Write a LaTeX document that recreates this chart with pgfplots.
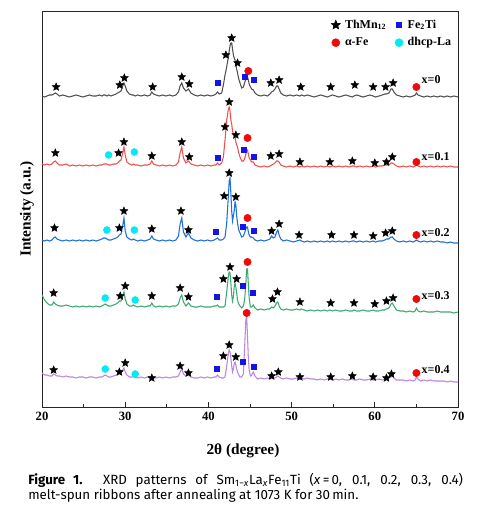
\documentclass[border=0pt]{standalone}
\usepackage{fontspec}
\setmainfont{Liberation Serif}
\newfontfamily\capfont{Fira Sans}
\usepackage{pgfplots}
\usepackage{pgfplotstable}
\pgfplotsset{compat=1.18}
\definecolor{cgray}{HTML}{505050}
\definecolor{cred}{HTML}{F05050}
\definecolor{cblue}{HTML}{1E6EDC}
\definecolor{cgreen}{HTML}{3CAA6E}
\definecolor{cpurple}{HTML}{B987E1}
\definecolor{msq}{HTML}{1414E6}
\definecolor{mred}{HTML}{EE0A0A}
\definecolor{mcyan}{HTML}{00EBF5}
\pgfdeclareplotmark{fstar}{%
 \pgfpathmoveto{\pgfpointpolar{90}{\pgfplotmarksize}}%
 \pgfpathlineto{\pgfpointpolar{126}{0.45\pgfplotmarksize}}%
 \pgfpathlineto{\pgfpointpolar{162}{\pgfplotmarksize}}%
 \pgfpathlineto{\pgfpointpolar{198}{0.45\pgfplotmarksize}}%
 \pgfpathlineto{\pgfpointpolar{234}{\pgfplotmarksize}}%
 \pgfpathlineto{\pgfpointpolar{270}{0.45\pgfplotmarksize}}%
 \pgfpathlineto{\pgfpointpolar{306}{\pgfplotmarksize}}%
 \pgfpathlineto{\pgfpointpolar{342}{0.45\pgfplotmarksize}}%
 \pgfpathlineto{\pgfpointpolar{18}{\pgfplotmarksize}}%
 \pgfpathlineto{\pgfpointpolar{54}{0.45\pgfplotmarksize}}%
 \pgfpathclose
 \pgfusepathqfillstroke}
\pgfplotstableread{
x g r b n p
20.0 0 2 1 14 5
20.3 -1 1 0 9 3
20.6 0 2 1 6 3
20.9 1 1 0 4 2
21.2 1 2 1 4 2
21.4 2 4 3 7 4
21.6 3 5 4 5 3
21.8 2 3 2 4 2
22.1 0 1 1 3 2
22.5 1 1 0 3 1
22.9 0 2 1 4 2
23.3 -1 0 0 3 1
23.7 0 1 1 2 1
24.1 1 0 0 3 0
24.5 0 1 1 2 1
24.9 -1 0 0 3 1
25.3 0 1 1 2 0
25.7 1 0 0 3 1
26.1 0 1 1 2 1
26.5 0 0 0 3 0
26.9 1 1 1 2 1
27.2 0 1 2 3 1
27.4 1 2 3 4 2
27.6 1 2 3 5 3
27.8 0 2 2 4 2
28.0 1 1 1 3 1
28.3 0 1 1 3 1
28.6 1 2 2 4 2
28.9 2 2 3 5 3
29.1 3 3 4 6 4
29.3 4 5 6 8 5
29.5 5 6 7 8 5
29.7 10 13 15 13 8
29.85 13 19 23 17 10
30.0 10 11 10 10 6
30.2 5 4 4 5 3
30.5 2 2 2 3 1
30.8 1 1 1 3 1
31.0 1 2 2 4 1
31.2 0 1 1 3 1
31.5 1 1 0 2 0
31.9 0 0 1 3 1
32.3 1 1 0 2 0
32.7 0 1 1 3 1
33.0 1 2 2 3 1
33.2 4 5 5 6 2
33.4 2 2 2 3 1
33.7 1 1 1 2 0
34.1 0 0 0 3 1
34.5 1 1 1 2 0
34.9 0 0 0 3 1
35.3 1 1 1 2 0
35.7 0 0 0 3 1
36.1 1 1 1 3 1
36.4 4 4 5 5 2
36.6 10 13 17 11 6
36.8 13 19 23 14 9
37.0 8 8 9 7 4
37.3 5 3 4 3 2
37.6 7 5 8 6 3
37.9 3 2 3 3 1
38.3 1 1 1 2 0
38.7 0 0 0 2 0
39.1 1 1 1 3 1
39.5 0 0 0 2 0
39.9 1 1 1 2 1
40.3 0 0 0 2 0
40.7 1 1 1 3 1
40.9 2 1 2 3 1
41.1 4 3 3 4 3
41.3 2 1 1 2 1
41.6 3 3 1 2 0
41.8 11 9 2 2 0
42.0 21 26 4 3 1
42.2 29 46 18 17 12
42.4 39 57 45 33 25
42.5 45 59 60 37 28
42.6 50 55 63 36 26
42.7 53 46 48 26 20
42.8 53 42 30 14 12
42.9 47 35 20 8 6
43.0 41 32 25 12 9
43.1 38 30 30 22 14
43.2 36 29 39 26 16
43.3 31 24 36 22 13
43.4 27 21 25 16 9
43.5 23 19 18 9 6
43.65 17 13 11 5 3
43.8 13 9 8 3 1
44.0 8 5 4 1 1
44.2 9 5 5 3 4
44.35 13 7 8 9 30
44.5 17 12 12 25 58
44.6 19 16 14 40 62
44.7 19 16 14 40 42
44.8 16 12 9 25 20
44.9 12 8 6 11 8
45.05 9 6 4 2 2
45.2 7 4 4 2 3
45.4 6 4 3 4 6
45.6 3 1 1 1 2
45.9 1 0 0 -1 -1
46.3 0 -1 1 0 0
46.7 1 0 0 -1 -1
47.1 0 -1 1 0 0
47.4 2 0 2 0 -1
47.6 4 1 5 2 0
47.8 5 2 3 1 0
48.0 7 3 4 3 0
48.2 10 5 9 6 1
48.35 10 5 11 7 2
48.5 7 4 6 3 1
48.7 3 1 2 0 0
49.0 1 0 0 -1 -1
49.4 0 -1 1 0 0
49.8 1 0 0 -1 -1
50.2 0 -1 -1 -1 -1
50.6 1 0 0 0 0
51.0 0 -1 1 -1 -1
51.2 1 0 0 0 0
51.5 0 -1 -1 -1 -1
51.9 1 0 0 -2 0
52.3 0 -1 -1 -1 -1
52.7 -1 0 0 -2 -1
53.1 0 -1 -1 -1 -2
53.5 1 0 0 -2 -1
53.9 0 -1 -1 -1 -2
54.3 -1 0 0 -2 -1
54.6 0 -1 -1 -1 -1
54.9 1 0 0 -2 -2
55.3 0 -1 -1 -1 -1
55.7 -1 0 0 -2 -2
56.1 0 -1 -1 -2 -1
56.5 1 0 0 -1 -2
56.9 0 -1 -1 -2 -2
57.3 -1 0 0 -2 -1
57.5 0 0 0 -1 -2
57.8 1 -1 -1 -2 -2
58.2 0 0 0 -2 -1
58.6 -1 -1 -1 -1 -2
59.0 0 0 0 -2 -2
59.4 1 -1 -1 -2 -1
59.8 0 0 0 -1 -2
60.1 -1 -1 -1 -2 -2
60.5 0 0 0 -2 -1
60.9 1 0 0 -1 -2
61.2 2 1 1 -1 -1
61.4 2 1 2 0 -1
61.7 3 1 2 1 0
61.95 7 3 4 5 1
62.1 7 3 4 6 2
62.3 4 2 2 3 0
62.6 1 0 0 -1 -2
63.0 0 -1 -1 -2 -2
63.4 -1 0 0 -2 -2
63.8 0 -1 -1 -3 -3
64.2 -1 0 0 -2 -2
64.6 0 -1 -1 -3 -3
64.85 1 0 0 -2 -2
65.0 3 1 1 1 1
65.2 1 0 0 -2 -1
65.5 0 -1 -1 -3 -3
65.9 -1 0 0 -2 -2
66.3 0 -1 -1 -3 -3
66.7 -1 0 0 -3 -2
67.1 0 -1 -1 -3 -3
67.5 -1 0 0 -2 -3
67.9 0 -1 -1 -3 -3
68.3 -1 0 -1 -3 -3
68.7 0 -1 -2 -3 -4
69.1 -1 0 -1 -3 -3
69.5 0 -1 -2 -4 -4
70.0 -1 -1 -2 -3 -4
}\xrd
\begin{document}
\begin{tikzpicture}[x=0.75pt,y=0.75pt]
\useasboundingbox (-42,-103) rectangle (458,407);
\begin{axis}[
 at={(0,0)}, anchor=south west,
 width=312pt, height=297pt, scale only axis,
 xmin=20, xmax=70, ymin=0, ymax=396,
 xtick={20,30,40,50,60,70}, minor xtick={25,35,45,55,65},
 xtick pos=bottom, ytick=\empty,
 tick align=inside,
 major tick length=3.5pt, minor tick length=2pt,
 axis line style={line width=0.7pt, black!85},
 every tick/.style={black!85, line width=0.6pt},
 ticklabel style={font=\bfseries\fontsize{9.5}{10}\selectfont},
 /pgf/number format/assume math mode=true,
 xlabel={2θ (degree)}, ylabel={Intensity (a.u.)},
 label style={font=\bfseries\fontsize{11.5}{13}\selectfont},
 xlabel style={at={(axis description cs:0.483,-0.11)}, anchor=center},
 ylabel style={at={(axis description cs:-0.036,0.5)}, anchor=center},
 legend columns=2,
 legend cell align=left,
 legend style={at={(rel axis cs:0.992,0.985)}, anchor=north east, draw=none, fill=none, inner sep=0pt,
   font=\bfseries\fontsize{9}{10}\selectfont,
   nodes={inner xsep=2.5pt, inner ysep=2pt},
   /tikz/every odd column/.append style={column sep=1pt},
   /tikz/every even column/.append style={column sep=4pt}, row sep=1.5pt},
 legend image code/.code={\draw[#1] plot coordinates {(0cm,0cm)};},
]
\addlegendimage{only marks, mark=fstar, mark size=3.6pt, black}
\addlegendentry{ThMn\textsubscript{12}}
\addlegendimage{only marks, mark=square*, mark size=2pt, msq}
\addlegendentry{Fe\textsubscript{2}Ti}
\addlegendimage{only marks, mark=*, mark size=3pt, mred}
\addlegendentry{α-Fe}
\addlegendimage{only marks, mark=*, mark size=3pt, mcyan}
\addlegendentry{dhcp-La}

\addplot[forget plot, cgray, line width=0.8pt] table[x=x, y expr=\thisrow{g}+311] {\xrd};
\addplot[forget plot, cred, line width=0.8pt] table[x=x, y expr=\thisrow{r}+241] {\xrd};
\addplot[forget plot, cblue, line width=0.8pt] table[x=x, y expr=\thisrow{b}+166] {\xrd};
\addplot[forget plot, cgreen, line width=0.8pt] table[x=x, y expr=\thisrow{n}+98] {\xrd};
\addplot[forget plot, cpurple, line width=0.8pt] table[x=x, y expr=\thisrow{p}+29] {\xrd};

\addplot[forget plot, only marks, mark=fstar, mark size=3pt, black] coordinates {
(21.7,320) (29.35,322) (29.9,329) (33.3,320) (36.8,330) (37.7,323) (42.1,352) (42.8,369) (43.5,344) (47.5,324) (48.5,327) (51.1,320) (54.7,320) (57.6,322) (59.8,320) (61.3,320) (62.2,324)
(21.6,254) (29.2,254) (29.85,265) (33.2,251) (36.8,265) (37.7,250) (42.0,280) (42.5,305) (43.3,272) (47.5,251) (48.5,253) (51.0,245) (54.6,245) (57.3,246) (60.0,244) (61.4,245) (62.1,250)
(21.5,179) (29.3,179) (29.85,196) (33.2,178) (36.7,196) (37.6,177) (41.9,211) (42.5,234) (43.3,210) (47.6,176) (48.5,183) (50.9,172) (54.8,172) (57.5,172) (59.8,171) (61.3,174) (62.1,176)
(21.4,114) (29.4,111) (30.0,121) (33.2,111) (36.6,119) (37.6,110) (41.8,128) (42.6,140) (43.4,128) (47.7,108) (48.3,115) (51.0,105) (54.7,104) (57.5,104) (60.0,103) (61.4,106) (62.2,109)
(21.4,37) (29.3,35) (30.0,44) (33.2,29) (36.6,41) (37.6,34) (41.8,51) (42.5,62) (43.3,50) (47.6,31) (48.4,35) (51.0,30) (54.7,30) (57.3,31) (59.8,30) (61.4,29) (62.0,33)
};
\addplot[forget plot, only marks, mark=square*, mark size=1.9pt, msq] coordinates {
(41.1,324) (44.4,330) (45.5,327)
(41.1,249) (44.2,257) (45.4,250)
(40.9,175) (44.1,180) (45.4,176)
(41.0,110) (44.1,121) (45.3,114)
(41.0,38) (44.1,45) (45.5,40)
};
\addplot[forget plot, only marks, mark=*, mark size=2.75pt, mred] coordinates {
(44.8,336) (65.0,320)
(44.7,269) (65.0,245)
(44.7,189) (65.0,172)
(44.7,145) (65.0,108)
(44.6,94) (65.0,34)
};
\addplot[forget plot, only marks, mark=*, mark size=2.6pt, mcyan] coordinates {
(28.0,252) (31.1,255)
(27.8,177) (31.1,177)
(27.6,109) (31.2,107)
(27.6,38) (31.2,33)
};
\begin{scope}[every node/.style={anchor=west, inner sep=0pt, font=\bfseries\fontsize{9}{10}\selectfont}]
\node at (axis cs:65.6,327) {x=0};
\node at (axis cs:65.6,250) {x=0.1};
\node at (axis cs:65.6,174) {x=0.2};
\node at (axis cs:65.6,111) {x=0.3};
\node at (axis cs:65.6,37) {x=0.4};
\end{scope}
\end{axis}
\node[anchor=base west, inner sep=0pt, font=\capfont\fontsize{10}{12}\selectfont] at (-14,-77)
 {\makebox[326pt][s]{\textbf{Figure 1.} XRD patterns of Sm\textsubscript{1−\textit{x}}La\textsubscript{\textit{x}}Fe\textsubscript{11}Ti (\textit{x}\,=\,0, 0.1, 0.2, 0.3, 0.4)}};
\node[anchor=base west, inner sep=0pt, font=\capfont\fontsize{10}{12}\selectfont] at (-14,-92)
 {melt-spun ribbons after annealing at 1073 K for 30\,min.};
\end{tikzpicture}
\end{document}
